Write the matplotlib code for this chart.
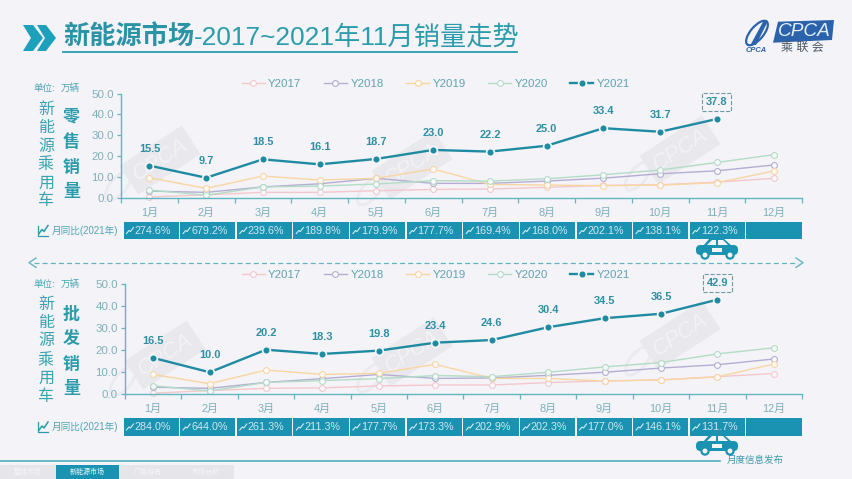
import matplotlib
matplotlib.use('Agg')
import matplotlib.pyplot as plt
from matplotlib.patches import Rectangle, Polygon, Circle, Ellipse, FancyBboxPatch

FONT = ['Liberation Sans', 'Noto Sans CJK SC']
plt.rcParams['font.family'] = FONT

W, H = 852, 479
BG = '#f4f3f7'
TEAL = '#1f8ba3'
CELL = '#1a93b2'
TEXT = '#2a9cab'
AXIS = '#62b6c2'
MUTED = '#7fb0ba'

months = ['1月', '2月', '3月', '4月', '5月', '6月', '7月', '8月', '9月', '10月', '11月', '12月']
y_ticks = [0, 10, 20, 30, 40, 50]

# retail numbers
retail_2017 = [0.5, 1.5, 2.7, 2.7, 3.5, 4.1, 4.3, 5.1, 6.0, 6.3, 7.6, 9.4]
retail_2018 = [3.3, 2.7, 5.3, 6.8, 9.4, 7.0, 7.0, 8.1, 9.5, 11.6, 13.0, 15.8]
retail_2019 = [9.7, 4.6, 10.5, 8.6, 9.4, 13.9, 6.5, 6.2, 5.9, 6.2, 7.3, 12.9]
retail_2020 = [3.8, 1.3, 5.3, 5.7, 6.7, 8.3, 8.1, 9.2, 11.1, 13.4, 17.0, 20.7]
retail_2021 = [15.5, 9.7, 18.5, 16.1, 18.7, 23.0, 22.2, 25.0, 33.4, 31.7, 37.8]
retail_yoy = ['274.6%', '679.2%', '239.6%', '189.8%', '179.9%', '177.7%',
              '169.4%', '168.0%', '202.1%', '138.1%', '122.3%']

# wholesale numbers
whole_2017 = [0.5, 1.7, 2.7, 2.9, 3.8, 4.2, 4.2, 5.3, 6.1, 6.5, 8.0, 9.4]
whole_2018 = [3.2, 2.7, 5.4, 7.1, 9.0, 7.2, 7.4, 8.6, 10.0, 11.9, 13.4, 16.0]
whole_2019 = [9.0, 4.8, 11.0, 9.0, 9.5, 13.6, 7.2, 7.2, 6.0, 6.5, 7.9, 13.7]
whole_2020 = [3.9, 1.5, 5.4, 6.2, 7.1, 8.5, 8.0, 10.0, 12.4, 14.4, 18.3, 21.1]
whole_2021 = [16.5, 10.0, 20.2, 18.3, 19.8, 23.4, 24.6, 30.4, 34.5, 36.5, 42.9]
whole_yoy = ['284.0%', '644.0%', '261.3%', '211.3%', '177.7%', '173.3%',
             '202.9%', '202.3%', '177.0%', '146.1%', '131.7%']

year_names = ['Y2017', 'Y2018', 'Y2019', 'Y2020']
year_colors = ['#f3c8cd', '#b3aed2', '#f8d6a2', '#b2dcc6']

tab_names = ['整体市场', '新能源市场', '厂商排名', '市场分析']

fig = plt.figure(figsize=(W / 100, H / 100), dpi=100, facecolor=BG)

# overlay in pixel coordinates for all the slide furniture
bg = fig.add_axes([0, 0, 1, 1], zorder=0)
bg.set_xlim(0, W)
bg.set_ylim(H, 0)
bg.axis('off')


def px(size):
    return size * 0.72


def watermark(x, y):
    bg.text(x, y, 'CPCA', rotation=33, ha='center', va='center', fontsize=px(22),
            color='#f3f2f6', fontstyle='italic',
            bbox=dict(boxstyle='square,pad=0.3', fc='#e9e8ec', ec='none'))
    bg.add_patch(Ellipse((x - 42, y + 26), 34, 16, angle=-50, fc='none', ec='#ebeaee', lw=2.0))


def car(cx, cy):
    body = FancyBboxPatch((cx - 21, cy - 3), 42, 10, boxstyle='round,pad=0,rounding_size=4.5',
                          fc=CELL, ec='none', zorder=4)
    bg.add_patch(body)
    bg.add_patch(Polygon([(cx - 14, cy - 2), (cx - 7, cy - 10), (cx + 6, cy - 10), (cx + 15, cy - 2)],
                         fc=CELL, ec='none', zorder=4))
    bg.add_patch(Polygon([(cx - 10, cy - 3), (cx - 5, cy - 8), (cx - 1, cy - 8), (cx - 1, cy - 3)],
                         fc=BG, ec='none', zorder=5))
    bg.add_patch(Polygon([(cx + 1, cy - 3), (cx + 1, cy - 8), (cx + 6, cy - 8), (cx + 11, cy - 3)],
                         fc=BG, ec='none', zorder=5))
    bg.add_patch(Rectangle((cx - 5, cy), 10, 3.5, fc=BG, ec='none', zorder=5))
    for dx in (-12, 13):
        bg.add_patch(Circle((cx + dx, cy + 7), 3.6, fc=BG, ec=CELL, lw=1.6, zorder=6))


def panel(x0, top, bottom, cell_top, cell_bottom, series, current, yoy, side, unit_y, side_ys, name_ys, car_y):
    ax = fig.add_axes([x0 / W, 1 - bottom / H, (802 - x0) / W, (bottom - top) / H], zorder=2)
    ax.patch.set_alpha(0)
    xs = list(range(len(months)))
    for values, name, color in zip(series, year_names, year_colors):
        ax.plot(xs, values, color=color, lw=1.0, marker='o', ms=4.2, mfc='#fafafc',
                mec=color, mew=0.8, label=name, clip_on=False)
    cur_x = xs[:len(current)]
    ax.plot(cur_x, current, color=TEAL, lw=1.7, marker='o', ms=5.6, mfc=TEAL,
            mec='#f6f6f9', mew=1.2, label='Y2021', clip_on=False, zorder=5)
    for i, v in enumerate(current):
        last = i == len(current) - 1
        box = dict(boxstyle='square,pad=0.35', fc='none', ec='#6f9aa6', ls='--', lw=0.8) if last else None
        ax.annotate('%.1f' % v, (i, v), xytext=(0, px(17)), textcoords='offset points',
                    ha='center', va='center', fontsize=px(11), fontweight='bold',
                    color='#2f8fa3', bbox=box)
    ax.set_xlim(-0.5, 11.5)
    ax.set_ylim(0, 50)
    ax.set_yticks(y_ticks)
    ax.set_yticklabels(['%.1f' % t for t in y_ticks])
    ax.set_xticks([i - 0.5 for i in range(13)])
    ax.set_xticklabels([])
    ax.set_xticks(xs, minor=True)
    ax.set_xticklabels(months, minor=True)
    ax.tick_params(axis='x', which='major', color=AXIS, length=3.5, width=0.9)
    ax.tick_params(axis='x', which='minor', length=0, pad=7, labelsize=px(11), labelcolor=MUTED)
    ax.tick_params(axis='y', color=AXIS, length=3, width=0.9, pad=2, labelsize=px(11.5), labelcolor=MUTED)
    for s in ('top', 'right'):
        ax.spines[s].set_visible(False)
    for s in ('left', 'bottom'):
        ax.spines[s].set_color(AXIS)
        ax.spines[s].set_linewidth(1.0)
    ax.legend(loc='center', bbox_to_anchor=(436 / W, 1 - (top - 9.5) / H), bbox_transform=fig.transFigure,
              ncol=5, frameon=False, fontsize=px(11.5), labelcolor='#5fa3b2', handlelength=2.0,
              handletextpad=0.3, columnspacing=1.95)

    # month on month strip
    cell_w = (803 - 123.5) / 12
    for i in range(12):
        left = 123.5 + i * cell_w
        bg.add_patch(Rectangle((left, cell_top), cell_w - 1.3, cell_bottom - cell_top, fc=CELL, ec='none'))
        if i < len(yoy):
            my = (cell_top + cell_bottom) / 2
            bg.plot([left + 3, left + 5.5, left + 7, left + 10], [my + 3, my, my + 1, my - 3],
                    color='#d4edf2', lw=0.8)
            bg.text(left + 11, my, yoy[i], ha='left', va='center', fontsize=px(10.8), color='#cfe8ee')
    my = (cell_top + cell_bottom) / 2
    bg.plot([38, 38, 48], [my - 5, my + 5, my + 5], color=TEXT, lw=0.9)
    bg.plot([39, 42, 44, 48], [my + 3, my - 1, my + 1, my - 5], color=TEXT, lw=1.1)
    bg.text(52, my, '月同比(2021年)', ha='left', va='center', fontsize=px(9.6), color='#4fa5b5')

    bg.text(33, unit_y, '单位:', ha='left', va='center', fontsize=px(9.5), color='#4fa5b5')
    bg.text(61, unit_y, '万辆', ha='left', va='center', fontsize=px(9.5), color='#4fa5b5')
    for ch, y in zip('新能源乘用车', name_ys):
        bg.text(46, y, ch, ha='center', va='center', fontsize=px(16), color='#39a3b0')
    for ch, y in zip(side, side_ys):
        bg.text(71.5, y, ch, ha='center', va='center', fontsize=px(17), fontweight='bold', color='#2a9cab')
    car(717, car_y)


# watermarks sit under the charts
for wx, wy in [(160, 160), (412, 165), (680, 150), (165, 355), (412, 352), (680, 335)]:
    watermark(wx, wy)

# title
bg.add_patch(Polygon([(23, 25), (33, 25), (43, 38), (33, 51), (23, 51), (31, 38)], fc='#1da0bc', ec='none'))
bg.add_patch(Polygon([(37, 25), (46, 25), (56, 38), (46, 51), (37, 51), (45, 38)], fc='#1da0bc', ec='none'))
bg.text(63, 37, '新能源市场', ha='left', va='center', fontsize=px(26.2), fontweight='bold', color='#2b93a6')
bg.text(194, 37, '-2017~2021年11月销量走势', ha='left', va='center', fontsize=px(26.2), color=TEXT)
bg.plot([63, 517], [52, 52], color=TEXT, lw=1.3)

# logo
bg.add_patch(Polygon([(778, 21.7), (834, 20), (832, 40), (773, 42.7)], fc='#2a63ac', ec='none'))
bg.text(804, 31, 'CPCA', ha='center', va='center', fontsize=px(19), fontstyle='italic', color='#e6eef7')
bg.text(802, 48, '乘 联 会', ha='center', va='center', fontsize=px(12), color='#4a5a6a')
bg.add_patch(Ellipse((757, 33), 30, 13, angle=-50, fc='none', ec='#2a63ac', lw=1.6))
bg.add_patch(Polygon([(764, 20), (768, 21), (756, 45), (751, 44)], fc='#2a63ac', ec='none'))
bg.text(756, 50, 'CPCA', ha='center', va='center', fontsize=px(7.5), fontstyle='italic', fontweight='bold', color='#2a63ac')

panel(121, 93.5, 198, 222, 239,
      [retail_2017, retail_2018, retail_2019, retail_2020], retail_2021, retail_yoy,
      '零售销量', 88, [117, 142, 167, 191], [109, 127, 146, 165, 183, 201], 248)
panel(125, 284, 394.3, 418, 436,
      [whole_2017, whole_2018, whole_2019, whole_2020], whole_2021, whole_yoy,
      '批发销量', 284, [314, 339, 364, 388], [304, 322, 341, 360, 378, 396], 444)

# divider between panels
bg.plot([34, 798], [262.7, 262.7], color=AXIS, lw=0.9, ls=(0, (4, 2.5)))
bg.plot([36, 29, 36], [258, 262.7, 267.4], color=AXIS, lw=1.0)
bg.plot([796, 803, 796], [258, 262.7, 267.4], color=AXIS, lw=1.0)

# footer
bg.plot([0, 720], [460.7, 460.7], color='#53aebb', lw=1.2)
bg.text(755, 460.5, '月度信息发布', ha='center', va='center', fontsize=px(9.5), fontstyle='italic', color='#3f9aaa')
tab_edges = [0, 55.5, 119, 177, 234]
for i, name in enumerate(tab_names):
    active = i == 1
    bg.add_patch(Rectangle((tab_edges[i], 465), tab_edges[i + 1] - tab_edges[i], 14,
                           fc=CELL if active else '#e6e5e9', ec='none'))
    bg.text((tab_edges[i] + tab_edges[i + 1]) / 2, 472, name, ha='center', va='center', fontsize=px(7),
            color='#eef7f9' if active else '#f6f6f8')

fig.savefig('out.png', dpi=100, facecolor=BG)
